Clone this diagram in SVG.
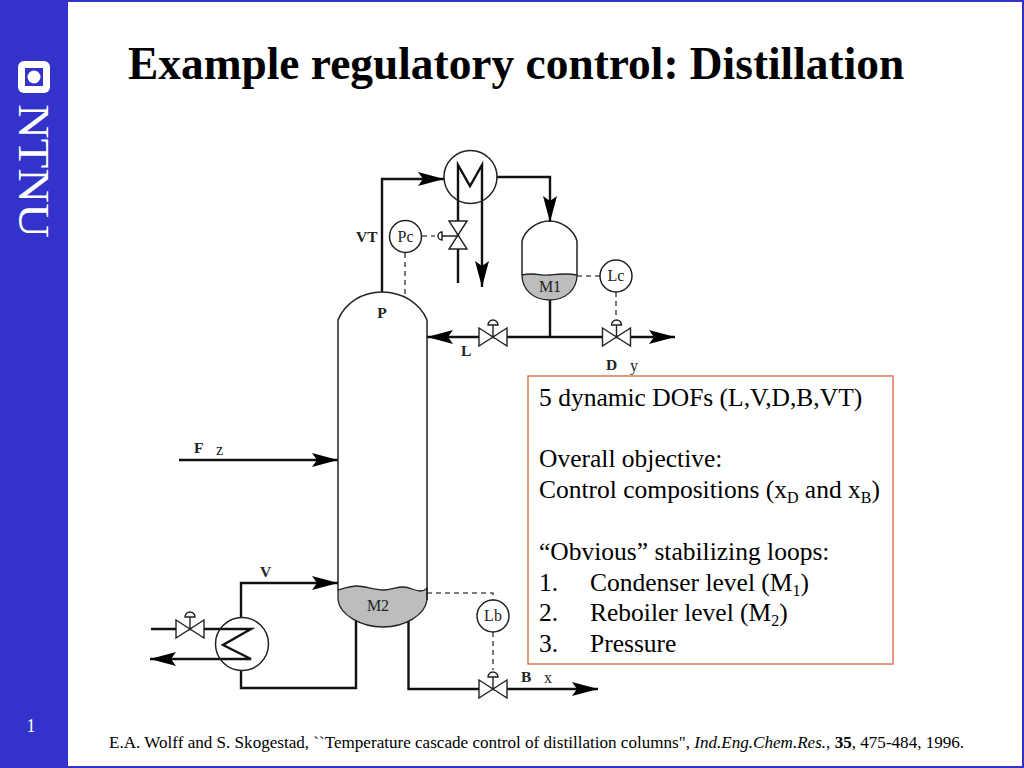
<svg xmlns="http://www.w3.org/2000/svg" width="1024" height="768" viewBox="0 0 1024 768">
<style>
text{font-family:"Liberation Serif","Times New Roman",serif;fill:#000}
.p{fill:none;stroke:#111;stroke-width:2.4}
.t{fill:none;stroke:#222;stroke-width:1.5}
.d{fill:none;stroke:#555;stroke-width:1.6;stroke-dasharray:5 4}
.c{fill:#fff;stroke:#222;stroke-width:1.5}
.v{fill:#fff;stroke:#222;stroke-width:1.4}
.l{font-size:16px;fill:#222}
.b{font-size:15.500px;font-weight:bold;fill:#222}
.m{font-size:25.500px}
.s{font-size:16px}
.liq{fill:#bdbdbd;stroke:#222;stroke-width:1.3}
</style>
<defs>
<marker id="a" markerUnits="userSpaceOnUse" markerWidth="27" markerHeight="14" refX="26" refY="7" orient="auto"><path d="M0 0L26 7L0 14L5 7Z" fill="#000"/></marker>
<g id="valve"><path class="v" d="M-14-9L14 9V-9L-14 9Z"/></g>
<g id="act"><path class="v" d="M0 0V-12M-5-12A5 5 0 0 1 5-12Z"/></g>
</defs>
<rect width="1024" height="768" fill="#fff"/>
<rect x="1" y="1" width="1022" height="766" fill="none" stroke="#3333cc" stroke-width="2"/>
<g id="sidebar">
<rect x="0" y="0" width="68" height="768" fill="#3333cc"/>
<rect x="18" y="61" width="32" height="32" rx="6" fill="#fff"/>
<rect x="25" y="68" width="18" height="18" fill="#3333cc"/>
<circle cx="34" cy="77" r="6.500" fill="#fff"/>
<text transform="translate(19 104) rotate(90)" font-size="43.500" style="fill:#fff" textLength="134" lengthAdjust="spacingAndGlyphs">NTNU</text>
<text x="31" y="732" font-size="18" text-anchor="middle" style="fill:#fff">1</text>
</g>
<g id="title"><text x="128" y="79" font-size="45.400" font-weight="bold">Example regulatory control: Distillation</text></g>
<g id="connectors">
<path class="p" d="M382 292V179H444" marker-end="url(#a)"/>
<path class="p" d="M497 177H550V222" marker-end="url(#a)"/>
<path class="p" d="M458 283V165L470 186L482 165V287" marker-end="url(#a)"/>
<path class="p" d="M550 300V337"/>
<path class="p" d="M507 337H427" marker-end="url(#a)"/>
<path class="p" d="M507 337H675" marker-end="url(#a)"/>
<path class="p" d="M179 460H338" marker-end="url(#a)"/>
<path class="p" d="M241 618V583H338" marker-end="url(#a)"/>
<path class="p" d="M241 670V688H356V620"/>
<path class="p" d="M408.500 620V689H598" marker-end="url(#a)"/>
<path class="p" d="M151 629H251L223 645L251 659H150" marker-end="url(#a)"/>
<path class="d" d="M405 253V296M422 236H435"/>
<path class="d" d="M577 276H600M616 292V316"/>
<path class="d" d="M427 593H493V600M493 632V670"/>
</g>
<g id="condenser">
<circle class="t" cx="470.500" cy="177" r="26.500"/>
<use href="#valve" transform="translate(458 235) rotate(90)"/>
<path class="t" d="M458 236H442M442 232A4 4 0 0 0 442 240Z"/>
</g>
<g id="Pc"><circle class="c" cx="405.500" cy="236.500" r="16"/><text class="l" x="405.500" y="242" text-anchor="middle">Pc</text></g>
<g id="drum">
<path class="liq" d="M522 275C535 272 540 276 550 275S566 273 577 275C577 290 565 300 549.500 300S522 290 522 275Z"/>
<path class="t" d="M522 275V241C525 230 537 221 549.500 221S574 230 577 241V275"/>
<text class="l" x="550" y="292" text-anchor="middle">M1</text>
</g>
<g id="Lc"><circle class="c" cx="616" cy="276" r="16"/><text class="l" x="616" y="281" text-anchor="middle">Lc</text></g>
<g id="valveL"><use href="#valve" transform="translate(493 337)"/><use href="#act" transform="translate(493 337)"/></g>
<g id="valveD"><use href="#valve" transform="translate(616.500 337)"/><use href="#act" transform="translate(616.500 337)"/></g>
<g id="column">
<path class="liq" d="M338 590C345 588 350 586 357 586S375 590 383 590S396 587 403 587S415 591 420 591S425 590 427 588V600C425 615 405 627 383 627S340 615 338 600Z"/>
<path class="t" d="M338 590V320C345 303 362 292 382 292S420 303 427 320V600"/>
<text class="l" x="378" y="611" text-anchor="middle">M2</text>
<text class="b" x="382" y="318" text-anchor="middle">P</text>
</g>
<g id="Lb"><circle class="c" cx="493" cy="616" r="16"/><text class="l" x="493" y="621" text-anchor="middle">Lb</text></g>
<g id="valveB"><use href="#valve" transform="translate(493 689)"/><use href="#act" transform="translate(493 689)"/></g>
<g id="reboiler">
<circle class="t" cx="242" cy="644" r="26.500"/>
<use href="#valve" transform="translate(190 629)"/><use href="#act" transform="translate(190 629)"/>
</g>
<g id="labels">
<text class="b" x="356" y="242">VT</text>
<text class="b" x="461" y="356">L</text>
<text class="b" x="606" y="370">D</text><text class="l" x="630" y="371">y</text>
<text class="b" x="194" y="453">F</text><text class="l" x="216" y="455">z</text>
<text class="b" x="260" y="577">V</text>
<text class="b" x="521" y="682">B</text><text class="l" x="544" y="683">x</text>
</g>
<g id="note">
<rect x="528" y="376" width="365" height="288" fill="#fff" stroke="#e0603a" stroke-width="1.300"/>
<text class="m" x="539" y="406">5 dynamic DOFs (L,V,D,B,VT)</text>
<text class="m" x="539" y="467">Overall objective:</text>
<text class="m" x="539" y="498">Control compositions (x<tspan class="s" dy="5">D</tspan><tspan dy="-5"> and x</tspan><tspan class="s" dy="5">B</tspan><tspan dy="-5">)</tspan></text>
<text class="m" x="539" y="560">“Obvious” stabilizing loops:</text>
<text class="m" x="539" y="591">1.</text><text class="m" x="590" y="591">Condenser level (M<tspan class="s" dy="5">1</tspan><tspan dy="-5">)</tspan></text>
<text class="m" x="539" y="621">2.</text><text class="m" x="590" y="621">Reboiler level (M<tspan class="s" dy="5">2</tspan><tspan dy="-5">)</tspan></text>
<text class="m" x="539" y="652">3.</text><text class="m" x="590" y="652">Pressure</text>
</g>
<g id="citation"><text x="109" y="747.500" font-size="17.080">E.A. Wolff and S. Skogestad, ``Temperature cascade control of distillation columns", <tspan font-style="italic">Ind.Eng.Chem.Res.</tspan>, <tspan font-weight="bold">35</tspan>, 475-484, 1996.</text></g>
</svg>
